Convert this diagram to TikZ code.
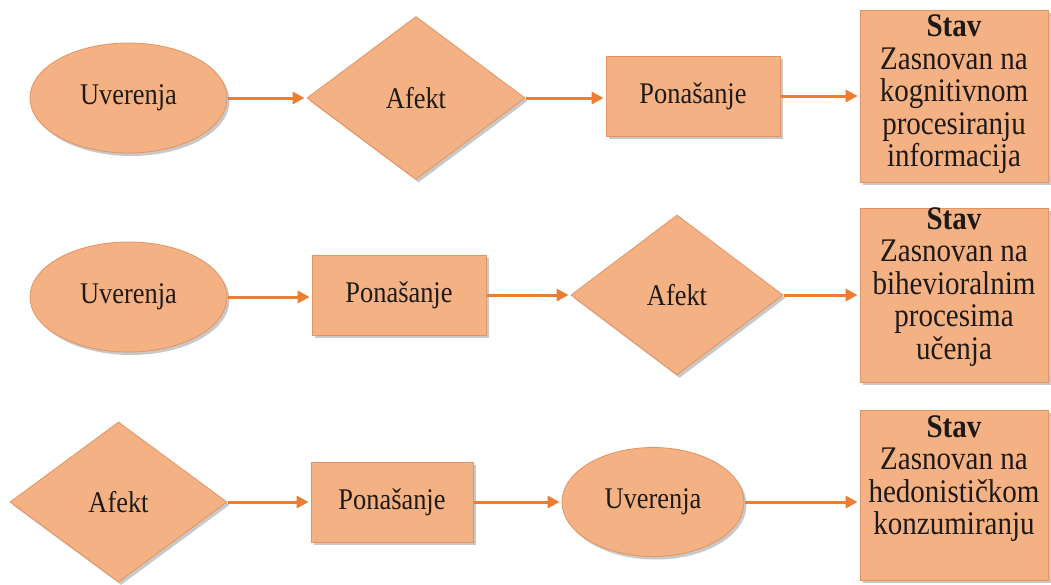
\documentclass[tikz,border=0pt]{standalone}
\usepackage{fontspec}
\setmainfont{Liberation Serif}[FakeStretch=0.88]
\usetikzlibrary{shapes.geometric,arrows.meta,shadows}
\definecolor{fillc}{HTML}{F4B183}
\definecolor{linec}{HTML}{E39460}
\definecolor{arrc}{HTML}{ED7D31}
\definecolor{txtc}{HTML}{1E1A18}
\begin{document}
\begin{tikzpicture}[x=1pt,y=-1pt,
  shp/.style={fill=fillc,draw=linec,line width=0.8pt,text=txtc,
    font=\fontsize{30}{34}\selectfont,inner sep=0pt,
    drop shadow={shadow xshift=2.5pt,shadow yshift=-3pt,opacity=0.3,fill=black!70}},
  ell/.style={shp,ellipse},
  dia/.style={shp,diamond},
  box/.style={shp,rectangle},
  stavtxt/.style={text=txtc,align=center,inner sep=0pt,font=\fontsize{33}{32.5}\selectfont},
  arr/.style={draw=arrc,line width=3pt,-{Triangle[length=12pt,width=12pt]},shorten <=1pt,shorten >=2pt}
]
\useasboundingbox (0,0) rectangle (1051,584);
\fill[white] (0,0) rectangle (1051,584);

% Row 1
\node[ell,minimum width=197pt,minimum height=110pt] (e1) at (128.5,98) {Uverenja};
\node[dia,minimum width=218pt,minimum height=163pt] (d1) at (416,98) {Afekt};
\node[box,minimum width=174pt,minimum height=80pt] (r1) at (693,96) {Ponašanje};
\node[box,minimum width=188pt,minimum height=172pt] (s1) at (954,96) {};
\node[stavtxt] (t1) at (954,94.5) {\textbf{Stav}\\Zasnovan na\\kognitivnom\\procesiranju\\informacija};

% Row 2
\node[ell,minimum width=197pt,minimum height=110pt] (e2) at (128.5,297) {Uverenja};
\node[box,minimum width=174pt,minimum height=80pt] (r2) at (399,295) {Ponašanje};
\node[dia,minimum width=212pt,minimum height=160pt] (d2) at (677,295) {Afekt};
\node[box,minimum width=188pt,minimum height=174pt] (s2) at (954,295) {};
\node[stavtxt] (t2) at (954,287) {\textbf{Stav}\\Zasnovan na\\bihevioralnim\\procesima\\učenja};

% Row 3
\node[dia,minimum width=217pt,minimum height=160pt] (d3) at (118.5,502) {Afekt};
\node[box,minimum width=162pt,minimum height=80pt] (r3) at (392,502) {Ponašanje};
\node[ell,minimum width=182pt,minimum height=109pt] (e3) at (653,502) {Uverenja};
\node[box,minimum width=188pt,minimum height=170pt] (s3) at (954,495) {};
\node[stavtxt] (t3) at (954,478.5) {\textbf{Stav}\\Zasnovan na\\hedonističkom\\konzumiranju};

% Arrows
\draw[arr] (e1.east) -- (e1.east -| d1.west);
\draw[arr] (d1.east) -- (d1.east -| r1.west);
\draw[arr] (r1.east) -- (r1.east -| s1.west);

\draw[arr] (e2.east) -- (e2.east -| r2.west);
\draw[arr] (r2.east) -- (r2.east -| d2.west);
\draw[arr] (d2.east) -- (d2.east -| s2.west);

\draw[arr] (d3.east) -- (d3.east -| r3.west);
\draw[arr] (r3.east) -- (r3.east -| e3.west);
\draw[arr] (e3.east) -- (e3.east -| s3.west);
\end{tikzpicture}
\end{document}
